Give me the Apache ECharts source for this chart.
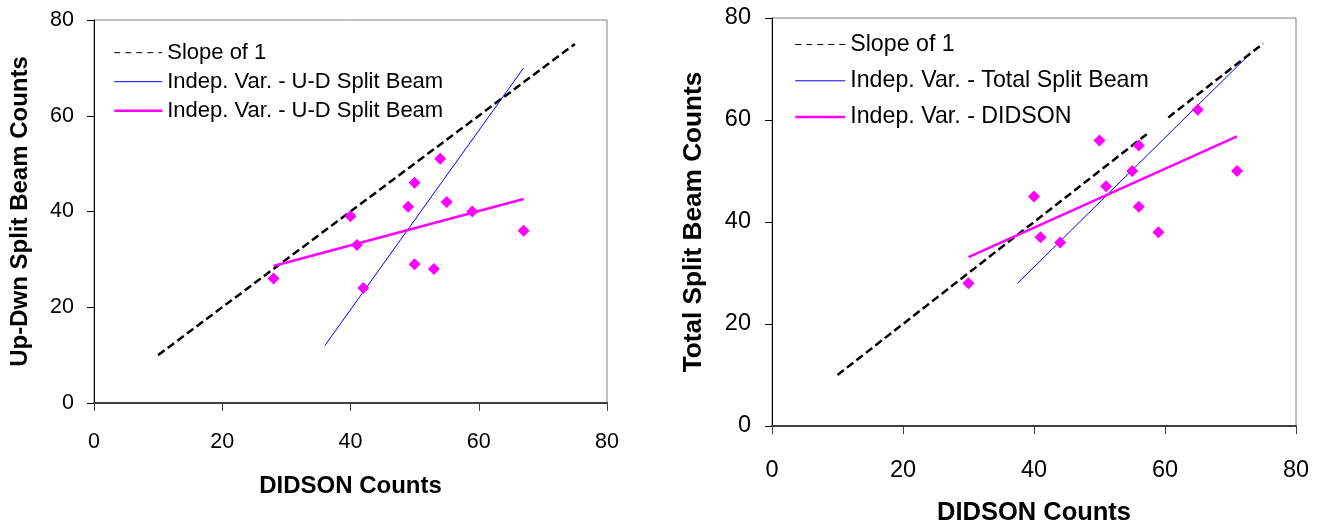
<!DOCTYPE html>
<html><head><meta charset="utf-8">
<script src="https://cdn.jsdelivr.net/npm/echarts@6/dist/echarts.min.js"></script>
<style>html,body{margin:0;padding:0;background:#fff}#c{width:1321px;height:531px}</style>
</head><body><div id="c"></div><script>
// ---- data ----
const axisTicks = [0, 20, 40, 60, 80];
const leftXTitle = 'DIDSON Counts';
const leftYTitle = 'Up-Dwn Split Beam Counts';
const rightXTitle = 'DIDSON Counts';
const rightYTitle = 'Total Split Beam Counts';
const slopeName = 'Slope of 1';
const leftBlueName = 'Indep. Var. - U-D Split Beam';
const leftPinkName = 'Indep. Var. - U-D Split Beam ';
const rightBlueName = 'Indep. Var. - Total Split Beam';
const rightPinkName = 'Indep. Var. - DIDSON';

const leftSlope = [[10, 10], [75, 75]];
const leftBlueFit = [[36, 12], [67, 70]];
const leftPinkFit = [[28, 28.6], [67, 42.6]];
const leftPoints = [[28, 26], [40, 39], [41, 33], [42, 24], [49, 41], [50, 46], [50, 29], [53, 28], [54, 51], [55, 42], [59, 40], [67, 36]];

const rightSlopeA = [[10, 10], [57.5, 57.5]];
const rightSlopeB = [[60.5, 60.5], [75, 75]];
const rightBlueFit = [[37.5, 28], [72.2, 72]];
const rightPinkFit = [[30, 33.1], [71, 56.8]];
const rightPoints = [[30, 28], [40, 45], [41, 37], [44, 36], [50, 56], [51, 47], [55, 50], [56, 55], [56, 43], [59, 38], [65, 62], [71, 50]];

// ---- chart ----
const FONT = 'Liberation Sans, Arial, sans-serif';
const chart = echarts.init(document.getElementById('c'), null, {renderer: 'canvas'});

function xAx(gi, name, fs, nfs, margin, gap) {
  return {
    gridIndex: gi, type: 'value', min: axisTicks[0], max: axisTicks[axisTicks.length - 1],
    interval: axisTicks[1] - axisTicks[0],
    name: name, nameLocation: 'middle', nameGap: gap,
    nameTextStyle: {fontFamily: FONT, fontSize: nfs, fontWeight: 'bold', color: '#000'},
    axisLine: {show: true, onZero: false, lineStyle: {color: '#404040', width: 2}},
    axisTick: {show: true, inside: false, length: 8, lineStyle: {color: '#404040', width: 1}},
    axisLabel: {fontFamily: FONT, fontSize: fs, color: '#000', margin: margin},
    splitLine: {show: false}
  };
}
function yAx(gi, name, fs, nfs, margin, gap) {
  return {
    gridIndex: gi, type: 'value', min: axisTicks[0], max: axisTicks[axisTicks.length - 1],
    interval: axisTicks[1] - axisTicks[0],
    name: name, nameLocation: 'middle', nameGap: gap,
    nameTextStyle: {fontFamily: FONT, fontSize: nfs, fontWeight: 'bold', color: '#000'},
    axisLine: {show: true, onZero: false, lineStyle: {color: '#000', width: 1}},
    axisTick: {show: true, inside: false, length: 7, lineStyle: {color: '#000', width: 1}},
    axisLabel: {fontFamily: FONT, fontSize: fs, color: '#000', margin: margin},
    splitLine: {show: false}
  };
}
function lineS(name, gi, data, color, width, dash, z) {
  return {
    type: 'line', name: name, xAxisIndex: gi, yAxisIndex: gi, data: data,
    symbol: 'none', showSymbol: false, silent: true, z: z || 2,
    lineStyle: {color: color, width: width, type: dash || 'solid'},
    itemStyle: {color: color}
  };
}
function scatterS(gi, data) {
  return {
    type: 'scatter', xAxisIndex: gi, yAxisIndex: gi, data: data,
    symbol: 'diamond', symbolSize: 12, itemStyle: {color: '#ff00ff', opacity: 1}, z: 5, silent: true
  };
}
const hideSym = {opacity: 0};

chart.setOption({
  animation: false,
  backgroundColor: '#fff',
  grid: [
    {left: 94, top: 20, width: 513, height: 383, show: true, borderColor: '#808080', borderWidth: 1, backgroundColor: 'transparent'},
    {left: 772, top: 18, width: 524, height: 416, show: true, borderColor: '#808080', borderWidth: 1, backgroundColor: 'transparent'}
  ],
  xAxis: [xAx(0, leftXTitle, 21.5, 24, 28, 71.5), xAx(1, rightXTitle, 23.5, 25.5, 33, 74)],
  yAxis: [yAx(0, leftYTitle, 21.5, 24, 20, 62), yAx(1, rightYTitle, 23.5, 26.2, 21, 65)],
  legend: [
    {
      orient: 'vertical', left: 113, top: 41.7, padding: 0, itemWidth: 48, itemHeight: 14, itemGap: 7,
      selectedMode: false,
      textStyle: {fontFamily: FONT, fontSize: 22, lineHeight: 22, color: '#000'},
      data: [
        {name: slopeName, itemStyle: hideSym, lineStyle: {width: 1, type: [6, 5], color: '#000'}},
        {name: leftBlueName, itemStyle: hideSym, lineStyle: {width: 1, color: '#0000ff'}},
        {name: leftPinkName, itemStyle: hideSym, lineStyle: {width: 2.5, color: '#ff00ff'}}
      ]
    },
    {
      orient: 'vertical', left: 794, top: 32.5, padding: 0, itemWidth: 50, itemHeight: 14, itemGap: 12.3,
      selectedMode: false,
      textStyle: {fontFamily: FONT, fontSize: 23.2, lineHeight: 24, color: '#000'},
      data: [
        {name: slopeName, itemStyle: hideSym, lineStyle: {width: 1, type: [6, 5], color: '#000'}},
        {name: rightBlueName, itemStyle: hideSym, lineStyle: {width: 1, color: '#0000ff'}},
        {name: rightPinkName, itemStyle: hideSym, lineStyle: {width: 2.5, color: '#ff00ff'}}
      ]
    }
  ],
  series: [
    lineS(slopeName, 0, leftSlope, '#000', 2.5, [8, 4]),
    lineS(leftBlueName, 0, leftBlueFit, '#0000ff', 1),
    lineS(leftPinkName, 0, leftPinkFit, '#ff00ff', 2.5),
    scatterS(0, leftPoints),
    lineS(slopeName, 1, rightSlopeA, '#000', 2.5, [8, 4]),
    lineS(slopeName, 1, rightSlopeB, '#000', 2.5, [8, 4]),
    lineS(rightBlueName, 1, rightBlueFit, '#0000ff', 1),
    lineS(rightPinkName, 1, rightPinkFit, '#ff00ff', 2.5),
    scatterS(1, rightPoints)
  ]
});
</script></body></html>
